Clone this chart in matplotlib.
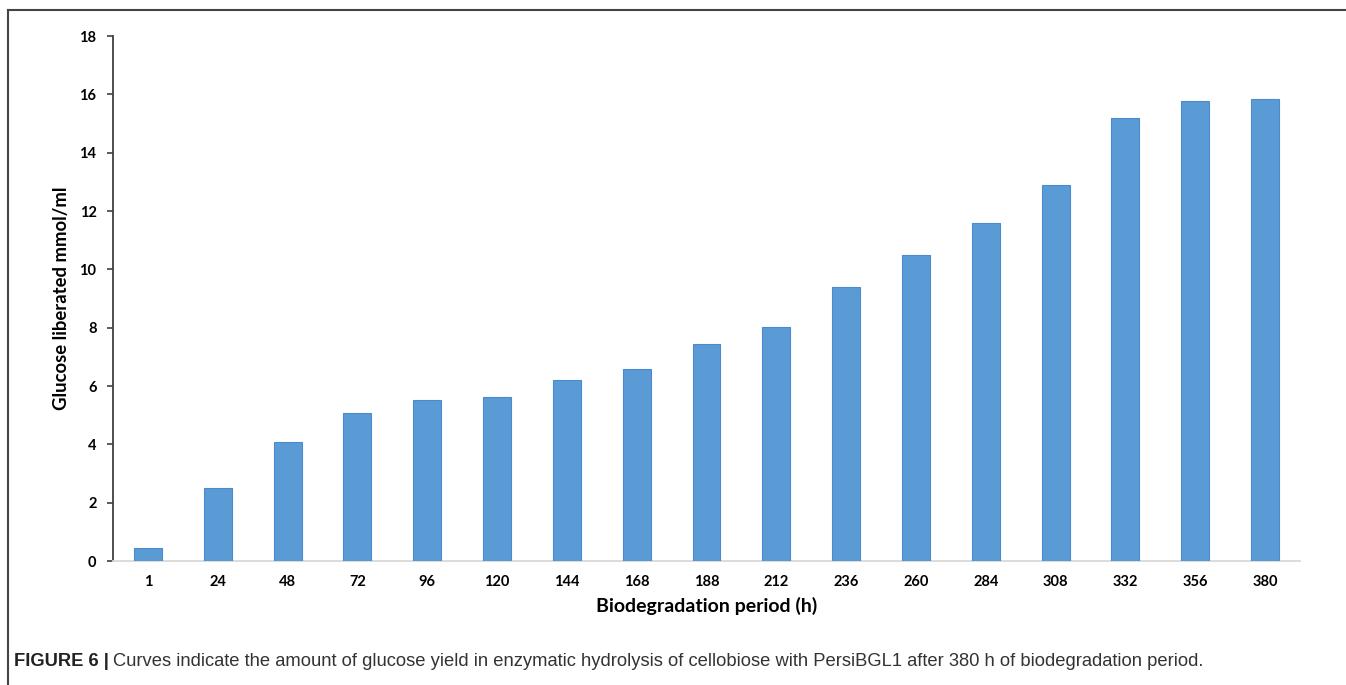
import matplotlib.pyplot as plt
from matplotlib.lines import Line2D

# === data ===
hours = ["1", "24", "48", "72", "96", "120", "144", "168", "188", "212",
         "236", "260", "284", "308", "332", "356", "380"]
glucose = [0.43, 2.50, 4.08, 5.07, 5.52, 5.62, 6.20, 6.58, 7.44, 8.02,
           9.39, 10.49, 11.59, 12.88, 15.20, 15.77, 15.84]

fig = plt.figure(figsize=(13.46, 6.85), dpi=100)
ax = fig.add_axes([0.084, 0.181, 0.8818, 0.7664])

x = range(len(hours))
ax.bar(x, glucose, width=0.4, color="#5b9bd5", edgecolor="#4a8ad0", linewidth=0.8, zorder=3)

ax.set_xlim(-0.5, len(hours) - 0.5)
ax.set_ylim(0, 18)
ax.set_yticks(range(0, 19, 2))
ax.set_xticks(list(x))
ax.set_xticklabels(hours)

for s in ["top", "right"]:
    ax.spines[s].set_visible(False)
ax.spines["left"].set_color("#404040")
ax.spines["left"].set_linewidth(1.3)
ax.spines["bottom"].set_color("#d9d9d9")
ax.spines["bottom"].set_linewidth(1.3)

ax.tick_params(axis="y", length=4, width=1.2, color="#404040", pad=8, labelsize=10.5)
ax.tick_params(axis="x", length=0, pad=10, labelsize=10.5)
for lab in ax.get_xticklabels() + ax.get_yticklabels():
    lab.set_fontfamily("Lato")
    lab.set_fontweight("bold")

ax.set_ylabel("Glucose liberated mmol/ml", fontsize=13.3, fontweight="bold",
              fontfamily="Lato", labelpad=7)
ax.set_xlabel("Biodegradation period (h)", fontsize=14, fontweight="bold",
              fontfamily="Lato", labelpad=6)

# frame around the figure panel
fig.add_artist(Line2D([8 / 1346, 1.0], [1 - 10 / 685, 1 - 10 / 685],
                      transform=fig.transFigure, color="#444444", lw=1.5))
fig.add_artist(Line2D([8 / 1346, 8 / 1346], [0.0, 1 - 10 / 685],
                      transform=fig.transFigure, color="#444444", lw=1.5))

# caption
cap_y = 1 - 662 / 685
t = fig.text(14 / 1346, cap_y, "FIGURE 6 |", fontsize=13.2, fontweight="bold",
             fontfamily="Liberation Sans", color="#222222", va="center")
fig.canvas.draw()
bb = t.get_window_extent()
fig.text(bb.x1 / fig.bbox.width + 0.003, cap_y,
         "Curves indicate the amount of glucose yield in enzymatic hydrolysis of "
         "cellobiose with PersiBGL1 after 380 h of biodegradation period.",
         fontsize=13.2, fontfamily="Liberation Sans", color="#333333", va="center")

fig.savefig("out.png", dpi=100)
